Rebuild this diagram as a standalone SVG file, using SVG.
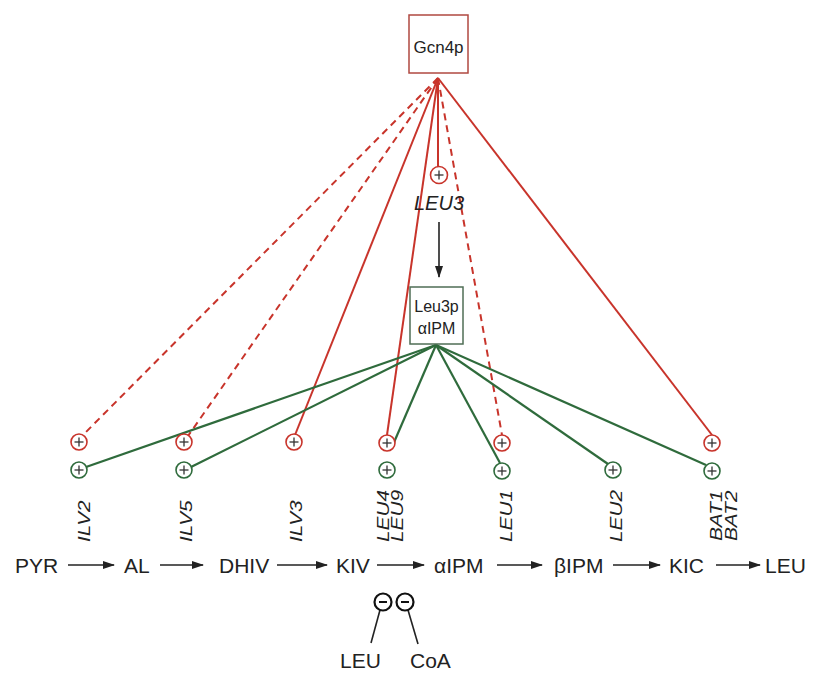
<svg xmlns="http://www.w3.org/2000/svg" width="817" height="673" viewBox="0 0 817 673">
<defs>
<style>
.t{font-family:"Liberation Sans",Arial,sans-serif;fill:#222;}
.path{font-size:21px;}
.gene{font-size:16px;font-style:italic;}
.red{stroke:#c8342b;stroke-width:2;fill:none;}
.dash{stroke-dasharray:7 5;}
.green{stroke:#2f6b3c;stroke-width:2.2;fill:none;}
.ar{stroke:#222;stroke-width:1.6;fill:none;marker-end:url(#ah);}
.cr{fill:#fff;stroke:#c8342b;stroke-width:1.6;}
.cg{fill:#fff;stroke:#2f6b3c;stroke-width:1.6;}
.inh{fill:#fff;stroke:#111;stroke-width:2.2;}
</style>
<marker id="ah" markerWidth="12" markerHeight="8" refX="11" refY="4" orient="auto" markerUnits="userSpaceOnUse">
<path d="M0,0 L12,4 L0,8 Z" fill="#222"/>
</marker>
<g id="plus"><line x1="-4.5" y1="0" x2="4.5" y2="0"/><line x1="0" y1="-4.5" x2="0" y2="4.5"/></g>
</defs>
<rect width="817" height="673" fill="#fff"/>

<g id="connectors">
<line class="red dash" x1="438" y1="78" x2="82" y2="436"/>
<line class="red dash" x1="438" y1="78" x2="188" y2="436"/>
<line class="red" x1="438" y1="78" x2="295" y2="435"/>
<line class="red" x1="438" y1="78" x2="387" y2="435"/>
<line class="red" x1="438" y1="78" x2="438" y2="167"/>
<line class="red dash" x1="438" y1="78" x2="502" y2="435"/>
<line class="red" x1="438" y1="78" x2="712" y2="435"/>
<line class="green" x1="436" y1="345" x2="86" y2="467"/>
<line class="green" x1="436" y1="345" x2="191" y2="467"/>
<line class="green" x1="436" y1="345" x2="392" y2="447"/>
<line class="green" x1="436" y1="345" x2="500" y2="463"/>
<line class="green" x1="436" y1="345" x2="608" y2="464"/>
<line class="green" x1="436" y1="345" x2="706" y2="465"/>
<line class="ar" x1="439" y1="222" x2="439" y2="277"/>
<line class="ar" x1="68" y1="565" x2="114" y2="565"/>
<line class="ar" x1="160" y1="565" x2="203" y2="565"/>
<line class="ar" x1="277" y1="565" x2="327" y2="565"/>
<line class="ar" x1="377" y1="565" x2="424" y2="565"/>
<line class="ar" x1="497" y1="565" x2="542" y2="565"/>
<line class="ar" x1="613" y1="565" x2="660" y2="565"/>
<line class="ar" x1="716" y1="565" x2="760" y2="565"/>
<line stroke="#222" stroke-width="1.6" x1="380" y1="610" x2="371" y2="643"/>
<line stroke="#222" stroke-width="1.6" x1="408" y1="610" x2="418" y2="644"/>
</g>

<g id="gcn4p">
<rect x="409" y="15" width="59" height="58" fill="#fff" stroke="#b04840" stroke-width="1.5"/>
<text class="t" x="438.5" y="53" font-size="17" text-anchor="middle">Gcn4p</text>
</g>

<g id="leu3">
<circle class="cr" cx="439" cy="175" r="8.5"/>
<use href="#plus" x="439" y="175" stroke="#333" stroke-width="1.3"/>
<text class="t" x="439" y="210" font-size="20" font-style="italic" text-anchor="middle">LEU3</text>
</g>

<g id="leu3p">
<rect x="410" y="287" width="53" height="57" fill="#fff" stroke="#4f6e55" stroke-width="1.5"/>
<text class="t" x="436.5" y="312" font-size="16" text-anchor="middle">Leu3p</text>
<text class="t" x="436.5" y="334" font-size="16" text-anchor="middle">αIPM</text>
</g>

<g id="ilv2">
<circle class="cr" cx="79" cy="442" r="8"/><use href="#plus" x="79" y="442" stroke="#333" stroke-width="1.3"/>
<circle class="cg" cx="79" cy="470" r="8"/><use href="#plus" x="79" y="470" stroke="#333" stroke-width="1.3"/>
<text class="t gene" transform="translate(90,542) rotate(-90) scale(1.3,1)">ILV2</text>
</g>
<g id="ilv5">
<circle class="cr" cx="184" cy="442" r="8"/><use href="#plus" x="184" y="442" stroke="#333" stroke-width="1.3"/>
<circle class="cg" cx="184" cy="470" r="8"/><use href="#plus" x="184" y="470" stroke="#333" stroke-width="1.3"/>
<text class="t gene" transform="translate(192,542) rotate(-90) scale(1.3,1)">ILV5</text>
</g>
<g id="ilv3">
<circle class="cr" cx="294" cy="442" r="8"/><use href="#plus" x="294" y="442" stroke="#333" stroke-width="1.3"/>
<text class="t gene" transform="translate(302,542) rotate(-90) scale(1.3,1)">ILV3</text>
</g>
<g id="leu4">
<circle class="cr" cx="387" cy="443" r="8"/><use href="#plus" x="387" y="443" stroke="#333" stroke-width="1.3"/>
<circle class="cg" cx="387" cy="470" r="8"/><use href="#plus" x="387" y="470" stroke="#333" stroke-width="1.3"/>
<text class="t gene" transform="translate(389,542) rotate(-90) scale(1.3,1)">LEU4</text>
<text class="t gene" transform="translate(403,542) rotate(-90) scale(1.3,1)">LEU9</text>
</g>
<g id="leu1">
<circle class="cr" cx="502" cy="443" r="8"/><use href="#plus" x="502" y="443" stroke="#333" stroke-width="1.3"/>
<circle class="cg" cx="502" cy="471" r="8"/><use href="#plus" x="502" y="471" stroke="#333" stroke-width="1.3"/>
<text class="t gene" transform="translate(512,542) rotate(-90) scale(1.3,1)">LEU1</text>
</g>
<g id="leu2">
<circle class="cg" cx="613" cy="470" r="8"/><use href="#plus" x="613" y="470" stroke="#333" stroke-width="1.3"/>
<text class="t gene" transform="translate(622,542) rotate(-90) scale(1.3,1)">LEU2</text>
</g>
<g id="bat">
<circle class="cr" cx="712" cy="443" r="8"/><use href="#plus" x="712" y="443" stroke="#333" stroke-width="1.3"/>
<circle class="cg" cx="712" cy="471" r="8"/><use href="#plus" x="712" y="471" stroke="#333" stroke-width="1.3"/>
<text class="t gene" transform="translate(722,541) rotate(-90) scale(1.3,1)">BAT1</text>
<text class="t gene" transform="translate(737,541) rotate(-90) scale(1.3,1)">BAT2</text>
</g>

<g id="pyr"><text class="t path" x="15" y="573">PYR</text></g>
<g id="al"><text class="t path" x="124" y="573">AL</text></g>
<g id="dhiv"><text class="t path" x="219" y="573">DHIV</text></g>
<g id="kiv"><text class="t path" x="336" y="573">KIV</text></g>
<g id="aipm"><text class="t path" x="434" y="573">αIPM</text></g>
<g id="bipm"><text class="t path" x="554" y="573">βIPM</text></g>
<g id="kic"><text class="t path" x="669" y="573">KIC</text></g>
<g id="leu"><text class="t path" x="765" y="573">LEU</text></g>

<g id="inhibition">
<circle class="inh" cx="383" cy="602" r="8.5"/><line x1="379" y1="602" x2="387" y2="602" stroke="#111" stroke-width="2"/>
<circle class="inh" cx="405" cy="602" r="8.5"/><line x1="401" y1="602" x2="409" y2="602" stroke="#111" stroke-width="2"/>
</g>
<g id="leu-inh"><text class="t path" x="340" y="668">LEU</text></g>
<g id="coa"><text class="t path" x="410" y="668">CoA</text></g>
</svg>
